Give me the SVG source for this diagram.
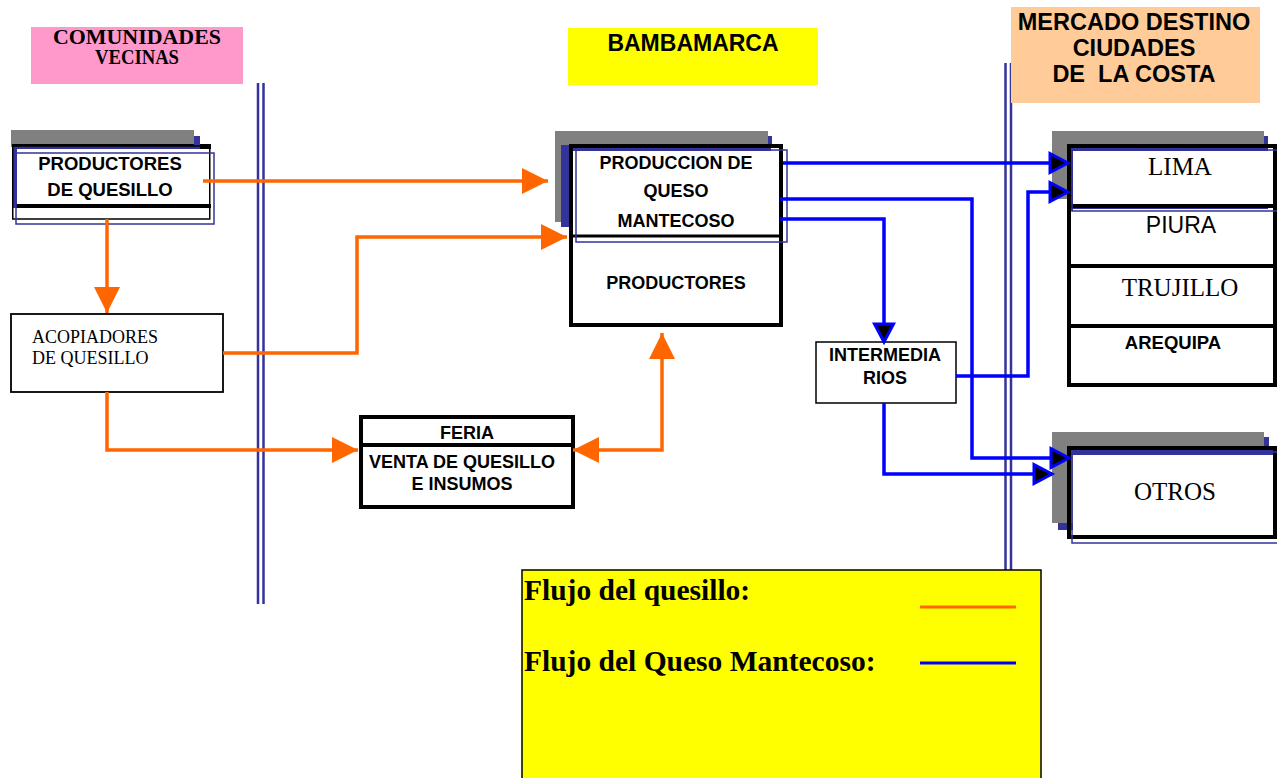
<svg xmlns="http://www.w3.org/2000/svg" width="1277" height="778" viewBox="0 0 1277 778">
<style>
.ab{font-family:"Liberation Sans",Arial,sans-serif;font-weight:bold;font-size:18px;text-anchor:middle;fill:#000}
.ar{font-family:"Liberation Sans",Arial,sans-serif;font-size:23px;text-anchor:middle;fill:#000}
.tr{font-family:"Liberation Serif","Times New Roman",serif;font-size:25px;text-anchor:middle;fill:#000}
.tb{font-family:"Liberation Serif","Times New Roman",serif;font-weight:bold;fill:#000}
.tn{font-family:"Liberation Serif","Times New Roman",serif;font-size:18px;fill:#000}
.hd{font-size:23.5px}
.lg{font-size:29.5px}
.o{stroke:#FF6600;stroke-width:3.5;fill:none}
.b{stroke:#0000FF;stroke-width:3.5;fill:none}
.sep{stroke:#333399;stroke-width:2.5}
.sh{fill:#808080}
.bl{fill:#333399}
.thin{fill:none;stroke:#333399;stroke-width:1.5}
</style>
<defs>
<marker id="ao" markerUnits="userSpaceOnUse" markerWidth="28" markerHeight="28" refX="26" refY="13" orient="auto-start-reverse" overflow="visible">
<path d="M0,0 L26,13 L0,26 z" fill="#FF6600"/>
</marker>
<marker id="ab" markerUnits="userSpaceOnUse" markerWidth="24" markerHeight="24" refX="20" refY="11" orient="auto" overflow="visible">
<path d="M2,1.5 L20,11 L2,20.5 z" fill="#000" stroke="#0000FF" stroke-width="3" stroke-linejoin="miter"/>
</marker>
</defs>
<rect width="1277" height="778" fill="#fff"/>

<g id="separators">
<line class="sep" x1="258" y1="83" x2="258" y2="604"/>
<line class="sep" x1="263.5" y1="83" x2="263.5" y2="604"/>
<line class="sep" x1="1005.5" y1="63" x2="1005.5" y2="570"/>
<line class="sep" x1="1011" y1="63" x2="1011" y2="570"/>
</g>

<g id="h-comunidades">
<rect x="31" y="27" width="212" height="57" fill="#FF99CC"/>
<text class="tb" x="137" y="44" style="font-size:20px" text-anchor="middle" textLength="168" lengthAdjust="spacingAndGlyphs">COMUNIDADES</text>
<text class="tb" x="137" y="64" style="font-size:20px" text-anchor="middle" textLength="84" lengthAdjust="spacingAndGlyphs">VECINAS</text>
</g>

<g id="h-bambamarca">
<rect x="568" y="28" width="250" height="57" fill="#FFFF00"/>
<text class="ab" x="693" y="51" style="font-size:23px">BAMBAMARCA</text>
</g>

<g id="h-mercado">
<rect x="1011" y="7" width="249" height="96" fill="#FFCC99"/>
<text class="ab hd" x="1134" y="30">MERCADO DESTINO</text>
<text class="ab hd" x="1134" y="56">CIUDADES</text>
<text class="ab hd" x="1134" y="82" xml:space="preserve">DE  LA COSTA</text>
</g>

<g id="n-productores-quesillo">
<rect class="sh" x="11" y="130" width="183" height="17"/>
<rect x="12" y="144" width="199" height="5" fill="#000"/>
<rect class="bl" x="12" y="146" width="188" height="62"/>
<rect class="bl" x="194" y="136" width="6" height="12"/>
<rect x="17" y="149" width="191" height="56" fill="#fff"/>
<rect x="12.75" y="146" width="197" height="73" fill="none" stroke="#000" stroke-width="1.5"/>
<rect x="16" y="204" width="195" height="4" fill="#000"/>
<rect class="thin" x="16" y="153" width="198" height="71"/>
<text class="ab" x="110" y="170" style="font-size:18.5px">PRODUCTORES</text>
<text class="ab" x="110" y="196" style="font-size:18.5px">DE QUESILLO</text>
</g>

<g id="n-acopiadores">
<rect x="11" y="314" width="212" height="78" fill="#fff" stroke="#000" stroke-width="1.8"/>
<text class="tn" x="32" y="343">ACOPIADORES</text>
<text class="tn" x="32" y="364">DE QUESILLO</text>
</g>

<g id="n-feria">
<rect x="361" y="417" width="212" height="90" fill="#fff" stroke="#000" stroke-width="4"/>
<line x1="361" y1="445" x2="573" y2="445" stroke="#000" stroke-width="4"/>
<text class="ab" x="467" y="439">FERIA</text>
<text class="ab" x="462" y="468">VENTA DE QUESILLO</text>
<text class="ab" x="462" y="490">E INSUMOS</text>
</g>

<g id="n-produccion">
<rect class="sh" x="555" y="131" width="213" height="91"/>
<rect class="bl" x="561" y="145" width="210" height="82"/>
<rect class="bl" x="768" y="136" width="4" height="10"/>
<rect x="573" y="151" width="208" height="173" fill="#fff"/>
<rect x="571" y="146" width="210" height="179" fill="none" stroke="#000" stroke-width="4"/>
<line x1="571" y1="236" x2="783" y2="236" stroke="#000" stroke-width="3"/>
<rect class="thin" x="576" y="150" width="211" height="92"/>
<text class="ab" x="676" y="169">PRODUCCION DE</text>
<text class="ab" x="676" y="197">QUESO</text>
<text class="ab" x="676" y="227">MANTECOSO</text>
<text class="ab" x="676" y="289">PRODUCTORES</text>
</g>

<g id="n-intermediarios">
<rect x="816" y="342" width="140" height="61" fill="#fff" stroke="#000" stroke-width="1.5"/>
<text class="ab" x="885" y="361">INTERMEDIA</text>
<text class="ab" x="885" y="384">RIOS</text>
</g>

<g id="n-ciudades">
<rect class="sh" x="1052" y="131" width="212" height="68"/>
<rect class="bl" x="1067" y="145" width="201" height="66"/>
<rect class="bl" x="1264" y="136" width="4" height="10"/>
<rect x="1073" y="151" width="202" height="54" fill="#fff"/>
<rect x="1073" y="209" width="202" height="174" fill="#fff"/>
<rect x="1069" y="146" width="206" height="239" fill="none" stroke="#000" stroke-width="4"/>
<line x1="1069" y1="206" x2="1277" y2="206" stroke="#000" stroke-width="4"/>
<line x1="1069" y1="266" x2="1277" y2="266" stroke="#000" stroke-width="4"/>
<line x1="1069" y1="326" x2="1277" y2="326" stroke="#000" stroke-width="4"/>
<rect class="thin" x="1072" y="150" width="210" height="61"/>
<text class="tr" x="1180" y="175">LIMA</text>
<text class="ar" x="1181" y="233">PIURA</text>
<text class="tr" x="1180" y="296">TRUJILLO</text>
<text class="ab" x="1173" y="349" style="font-size:18.5px">AREQUIPA</text>
</g>

<g id="n-otros">
<rect class="bl" x="1058" y="437" width="211" height="93"/>
<rect class="sh" x="1052" y="432" width="212" height="91"/>
<rect class="bl" x="1071" y="450" width="204" height="5"/>
<rect x="1073" y="455" width="202" height="80" fill="#fff"/>
<rect x="1069" y="448" width="206" height="89" fill="none" stroke="#000" stroke-width="4"/>
<rect class="thin" x="1072" y="452" width="210" height="91"/>
<text class="tr" x="1175" y="500">OTROS</text>
</g>

<g id="connectors">
<path class="o" d="M203,181 H548" marker-end="url(#ao)"/>
<path class="o" d="M107,219 V313" marker-end="url(#ao)"/>
<path class="o" d="M223,353 H357 V237 H567" marker-end="url(#ao)"/>
<path class="o" d="M107,392 V450 H358" marker-end="url(#ao)"/>
<path class="o" d="M573,450 H662 V333" marker-start="url(#ao)" marker-end="url(#ao)"/>
<path class="b" d="M783,163 H1068" marker-end="url(#ab)"/>
<path class="b" d="M780,199 H972 V458 H1069" marker-end="url(#ab)"/>
<path class="b" d="M780,219 H884 V342" marker-end="url(#ab)"/>
<path class="b" d="M956,376 H1028 V192 H1068" marker-end="url(#ab)"/>
<path class="b" d="M884,403 V474 H1052" marker-end="url(#ab)"/>
</g>

<g id="legend">
<rect x="522" y="570" width="519" height="212" fill="#FFFF00" stroke="#000" stroke-width="1.5"/>
<text class="tb lg" x="524" y="600">Flujo del quesillo:</text>
<text class="tb lg" x="524" y="671">Flujo del Queso Mantecoso:</text>
<line x1="920" y1="607" x2="1016" y2="607" stroke="#FF6600" stroke-width="3"/>
<line x1="920" y1="663" x2="1016" y2="663" stroke="#0000FF" stroke-width="3"/>
</g>
</svg>
